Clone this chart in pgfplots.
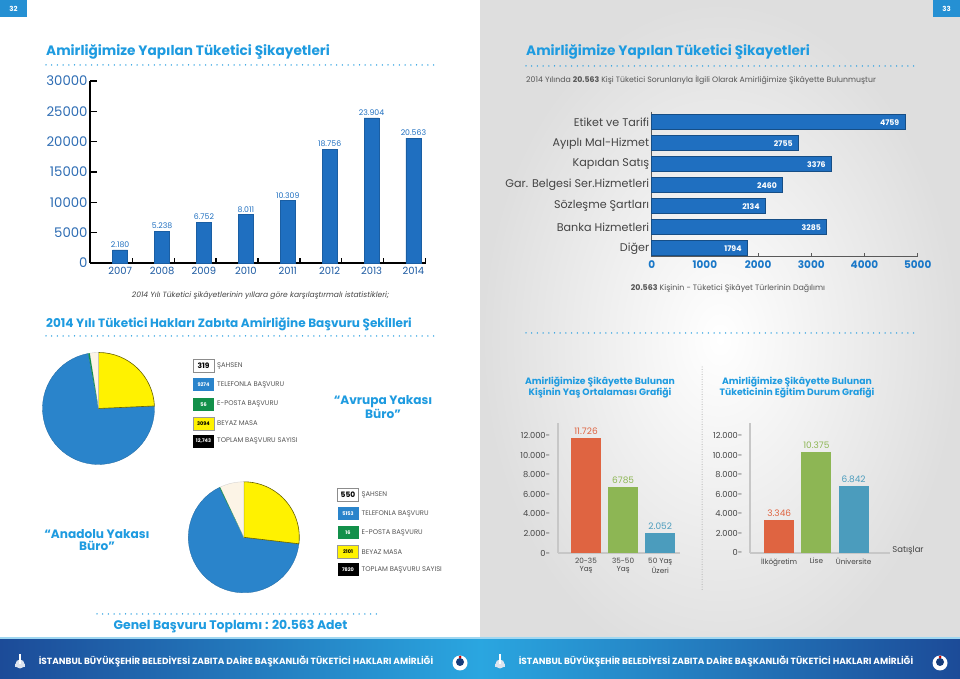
\documentclass[border=0pt]{standalone}
\usepackage{pgfplots}
\pgfplotsset{compat=1.18}
\usepackage{fontspec}
\setmainfont{Poppins}
\definecolor{titleblue}{HTML}{1E9BE0}
\definecolor{barblue}{HTML}{1F6FC0}
\definecolor{tickblue}{HTML}{2E6DB4}
\definecolor{xtickblue}{HTML}{1C5AA2}
\definecolor{hticks}{HTML}{1A78C8}
\definecolor{pieblue}{HTML}{2A84CB}
\definecolor{pieyellow}{HTML}{FFF200}
\definecolor{piecream}{HTML}{FCF4E6}
\definecolor{piegreen}{HTML}{12904A}
\definecolor{orng}{HTML}{DF6441}
\definecolor{grn}{HTML}{8DB654}
\definecolor{tealb}{HTML}{4B9CBD}
\definecolor{footdark}{HTML}{1C4B98}
\definecolor{footlight}{HTML}{2AA6E0}
\definecolor{txtgray}{HTML}{444444}
\definecolor{lgray}{HTML}{555555}
\newcommand\fs[1]{\fontsize{#1}{#1}\selectfont}
% pie angles (counterclockwise from top)
\pgfmathsetmacro\pAw{90+319/12743*360}
\pgfmathsetmacro\pAg{\pAw+56/12743*360}
\pgfmathsetmacro\pAb{450-3094/12743*360}
\pgfmathsetmacro\pBw{90+550/7820*360}
\pgfmathsetmacro\pBg{\pBw+16/7820*360}
\pgfmathsetmacro\pBb{450-2101/7820*360}
\begin{document}
\begin{tikzpicture}[x=1bp,y=1bp]
\useasboundingbox (0,0) rectangle (960,679);
\fill[white] (0,0) rectangle (480,679);
\shade[inner color=white, outer color=black!13] (480,0) rectangle (960,679);
% footer
\shade[left color=footdark, right color=footdark, middle color=footlight] (0,0) rectangle (960,41);
\draw[line width=1.5bp, color=footlight!45!white] (0,41) -- (960,41);
\node[text=white, font=\fs{9}\bfseries] at (236,{679-662}) {İSTANBUL BÜYÜKŞEHİR BELEDİYESİ ZABITA DAİRE BAŞKANLIĞI TÜKETİCİ HAKLARI AMİRLİĞİ};
\node[text=white, font=\fs{9}\bfseries] at (716,{679-662}) {İSTANBUL BÜYÜKŞEHİR BELEDİYESİ ZABITA DAİRE BAŞKANLIĞI TÜKETİCİ HAKLARI AMİRLİĞİ};
\foreach \lx in {20,500}{
  \fill[white!85!footdark] (\lx-5,{679-667}) rectangle (\lx+5,{679-664});
  \fill[white!85!footdark] (\lx,{679-664}) circle[radius=4.5];
  \fill[white] (\lx-0.6,{679-664}) rectangle (\lx+0.6,{679-654});}
\foreach \lx in {460,940}{
  \fill[white] (\lx,{679-663}) circle[radius=7.5];
  \fill[footdark!80!black] (\lx,{679-662}) circle[radius=4];
  \fill[red!80!black] (\lx,{679-657}) circle[radius=1.5];}
% page numbers
\fill[footlight!60!barblue] (0,{679-17}) rectangle (27,679);
\node[white, font=\fs{7}\bfseries] at (13.5,{679-8.5}) {32};
\fill[footlight!60!barblue] (933,{679-17}) rectangle (960,679);
\node[white, font=\fs{7}\bfseries] at (946.5,{679-8.5}) {33};

% ---------- titles and rules ----------
\tikzset{dots/.style={titleblue, line width=1.5bp, line cap=round, dash pattern=on 0bp off 5.7bp}}
\node[anchor=base west, inner sep=0, text=titleblue, font=\fs{13.7}\bfseries] at (46,{679-56}) {Amirliğimize Yapılan Tüketici Şikayetleri};
\draw[dots] (46,{679-65}) -- (434,{679-65});
\node[anchor=base west, inner sep=0, text=titleblue, font=\fs{13.7}\bfseries] at (526,{679-56}) {Amirliğimize Yapılan Tüketici Şikayetleri};
\draw[dots] (526,{679-66}) -- (915,{679-66});
\node[anchor=west, inner sep=0, text=lgray, font=\fs{7.8}] at (526,{679-80}) {2014 Yılında \textbf{20.563} Kişi Tüketici Sorunlarıyla İlgili Olarak Amirliğimize Şikâyette Bulunmuştur};
\node[inner sep=0, text=txtgray, font=\fs{7.6}\itshape] at (260.5,{679-296}) {2014 Yılı Tüketici şikâyetlerinin yıllara göre karşılaştırmalı istatistikleri;};
\node[anchor=base west, inner sep=0, text=titleblue, font=\fs{12.1}\bfseries] at (46,{679-327.5}) {2014 Yılı Tüketici Hakları Zabıta Amirliğine Başvuru Şekilleri};
\draw[dots] (46,{679-336}) -- (434,{679-336});
\draw[dots] (526,{679-333}) -- (915,{679-333});
\node[inner sep=0, text=lgray, font=\fs{7.9}] at (728,{679-289}) {\textbf{20.563} Kişinin - Tüketici Şikâyet Türlerinin Dağılımı};
\draw[dots] (97,{679-614}) -- (377,{679-614});
\node[inner sep=0, text=titleblue, font=\fs{12.5}\bfseries] at (230.5,{679-627}) {Genel Başvuru Toplamı : 20.563 Adet};
\node[align=center, text=titleblue, font=\fs{12.2}\bfseries, inner sep=0] at (383,{679-407}) {“Avrupa Yakası\\Büro”};
\node[align=center, text=titleblue, font=\fs{12.2}\bfseries, inner sep=0] at (97,{679-540}) {“Anadolu Yakası\\Büro”};
\node[align=center, text=titleblue, font=\fs{9.3}\bfseries, inner sep=0] at (600,{679-388}) {Amirliğimize Şikâyette Bulunan\\Kişinin Yaş Ortalaması Grafiği};
\node[align=center, text=titleblue, font=\fs{9.3}\bfseries, inner sep=0] at (797,{679-388}) {Amirliğimize Şikâyette Bulunan\\Tüketicinin Eğitim Durum Grafiği};
\draw[black!35, line width=1bp, line cap=round, dash pattern=on 0bp off 2.5bp] (702,{679-367}) -- (702,{679-590});
\node[text=txtgray, font=\fs{8.5}, inner sep=0] at (908,{679-550}) {Satışlar};

% ---------- chart 1: yearly complaints ----------
\begin{axis}[at={(90bp,416bp)}, anchor=south west, scale only axis, width=336bp, height=182bp,
  ybar, bar width=15bp, xmin=2006.28, xmax=2014.3, ymin=0, ymax=30000,
  axis lines*=left, axis line style={line width=1.3bp, black},
  xtick={2007,2008,2009,2010,2011,2012,2013,2014},
  minor xtick={2007.29,2008.29,2009.29,2010.29,2011.29,2012.29,2013.29,2014.29},
  major x tick style={draw=none},
  ytick={0,5000,10000,15000,20000,25000,30000}, scaled y ticks=false,
  tick align=inside, major tick length=7bp, minor tick length=5bp,
  tick style={black, line width=1.3bp},
  /pgf/number format/1000 sep={}, /pgf/number format/fixed, /pgf/number format/assume math mode=true,
  yticklabel style={font=\fs{13.3}, text=tickblue, xshift=1bp},
  xticklabel style={font=\fs{10}, text=xtickblue, yshift=-1bp},
  nodes near coords, point meta=explicit symbolic,
  every node near coord/.append style={font=\fs{7.8}, text=barblue, inner sep=2bp},
  clip=false]
\addplot[fill=barblue, draw=barblue!85!black, line width=0.4bp] coordinates {
 (2007,2180) [2.180] (2008,5238) [5.238] (2009,6752) [6.752] (2010,8011) [8.011]
 (2011,10309) [10.309] (2012,18756) [18.756] (2013,23904) [23.904] (2014,20563) [20.563]};
\end{axis}

% ---------- chart 2: complaint types ----------
\begin{axis}[at={(651.7bp,422.3bp)}, anchor=south west, scale only axis, width=266bp, height=145bp,
  xbar, bar width=15bp, xmin=0, xmax=5000, ymin=-0.5, ymax=6.4, y dir=reverse,
  axis lines*=left, axis line style={line width=1.1bp, black!65},
  ytick={0,1,2,3,4,5,6},
  yticklabels={Etiket ve Tarifi, Ayıplı Mal-Hizmet, Kapıdan Satış, Gar. Belgesi Ser.Hizmetleri, Sözleşme Şartları, Banka Hizmetleri, Diğer},
  major y tick style={draw=none},
  xtick={0,1000,2000,3000,4000,5000}, scaled x ticks=false, tick align=inside, major tick length=4bp,
  tick style={black!65, line width=1bp},
  /pgf/number format/1000 sep={}, /pgf/number format/fixed, /pgf/number format/assume math mode=true,
  yticklabel style={font=\fs{11.2}, text=txtgray, xshift=1bp},
  xticklabel style={font=\fs{10.5}\bfseries, text=hticks},
  nodes near coords, point meta=explicit symbolic,
  every node near coord/.append style={anchor=east, font=\fs{7.8}\bfseries, text=white, xshift=-2bp},
  clip=false]
\addplot[fill=barblue, draw=barblue!70!black, line width=0.6bp] coordinates {
 (4759,0) [4759] (2755,1) [2755] (3376,2) [3376] (2460,3) [2460]
 (2134,4) [2134] (3285,5) [3285] (1794,6) [1794]};
\end{axis}

% ---------- chart 3: age ----------
\begin{axis}[at={(557.7bp,126bp)}, anchor=south west, scale only axis, width=122.3bp, height=130.3bp,
  ybar, bar width=30bp, xmin=-0.763, xmax=2.534, ymin=0, ymax=13307,
  axis lines*=left, axis line style={line width=1.8bp, black!22},
  ytick={0,2000,4000,6000,8000,10000,12000}, scaled y ticks=false,
  yticklabel={\pgfmathprintnumber{\tick}-},
  xtick={0,1,2}, xticklabels={{20-35\\Yaş},{35-50\\Yaş},{50 Yaş\\Üzeri}},
  major tick length=0pt,
  /pgf/number format/fixed, /pgf/number format/1000 sep={.}, /pgf/number format/assume math mode=true,
  yticklabel style={font=\fs{8.3}, text=txtgray, xshift=-4bp},
  xticklabel style={font=\fs{7.3}, text=txtgray, align=center, yshift=-2bp},
  nodes near coords, point meta=explicit symbolic,
  every node near coord/.append style={font=\fs{9}, inner sep=3bp},
  clip=false]
\addplot[fill=orng, draw=none, bar shift=0pt, every node near coord/.append style={text=orng}] coordinates {(0,11726) [11.726]};
\addplot[fill=grn, draw=none, bar shift=0pt, every node near coord/.append style={text=grn}] coordinates {(1,6785) [6785]};
\addplot[fill=tealb, draw=none, bar shift=0pt, every node near coord/.append style={text=tealb}] coordinates {(2,2052) [2.052]};
\end{axis}

% ---------- chart 4: education ----------
\begin{axis}[at={(750bp,126.3bp)}, anchor=south west, scale only axis, width=140bp, height=130bp,
  ybar, bar width=30bp, xmin=-0.785, xmax=2.98, ymin=0, ymax=13333,
  axis lines*=left, axis line style={line width=1.8bp, black!22},
  ytick={0,2000,4000,6000,8000,10000,12000}, scaled y ticks=false,
  yticklabel={\pgfmathprintnumber{\tick}-},
  xtick={0,1,2}, xticklabels={İlköğretim,Lise,Üniversite},
  major tick length=0pt,
  /pgf/number format/fixed, /pgf/number format/1000 sep={.}, /pgf/number format/assume math mode=true,
  yticklabel style={font=\fs{8.3}, text=txtgray, xshift=-4bp},
  xticklabel style={font=\fs{7.3}, text=txtgray, yshift=-2bp},
  nodes near coords, point meta=explicit symbolic,
  every node near coord/.append style={font=\fs{9}, inner sep=3bp},
  clip=false]
\addplot[fill=orng, draw=none, bar shift=0pt, every node near coord/.append style={text=orng}] coordinates {(0,3346) [3.346]};
\addplot[fill=grn, draw=none, bar shift=0pt, every node near coord/.append style={text=grn}] coordinates {(1,10375) [10.375]};
\addplot[fill=tealb, draw=none, bar shift=0pt, every node near coord/.append style={text=tealb}] coordinates {(2,6842) [6.842]};
\end{axis}

% ---------- pie 1: Avrupa Yakası ----------
\begin{axis}[hide axis, scale only axis, width=112bp, height=112bp, at={(42.5bp,214.5bp)}, anchor=south west,
  xmin=-1, xmax=1, ymin=-1, ymax=1, clip=false]
\fill[pieblue, draw=pieblue!80!black, line width=0.3bp] (axis cs:0,0) -- ++(\pAg:56bp) arc[start angle=\pAg, end angle=\pAb, radius=56bp] -- cycle;
\fill[pieyellow, draw=black!60!pieyellow, line width=0.6bp] (axis cs:0,0) -- ++(\pAb:56bp) arc[start angle=\pAb, end angle=450, radius=56bp] -- cycle;
\fill[piecream, draw=black!20, line width=0.3bp] (axis cs:0,0) -- ++(90:56bp) arc[start angle=90, end angle=\pAw, radius=56bp] -- cycle;
\fill[piegreen] (axis cs:0,0) -- ++(\pAw:56bp) arc[start angle=\pAw, end angle=\pAg, radius=56bp] -- cycle;
\end{axis}

% ---------- pie 2: Anadolu Yakası ----------
\begin{axis}[hide axis, scale only axis, width=111bp, height=111bp, at={(188.3bp,86.2bp)}, anchor=south west,
  xmin=-1, xmax=1, ymin=-1, ymax=1, clip=false]
\fill[pieblue, draw=pieblue!80!black, line width=0.3bp] (axis cs:0,0) -- ++(\pBg:55.5bp) arc[start angle=\pBg, end angle=\pBb, radius=55.5bp] -- cycle;
\fill[pieyellow, draw=black!60!pieyellow, line width=0.6bp] (axis cs:0,0) -- ++(\pBb:55.5bp) arc[start angle=\pBb, end angle=450, radius=55.5bp] -- cycle;
\fill[piecream, draw=black!20, line width=0.3bp] (axis cs:0,0) -- ++(90:55.5bp) arc[start angle=90, end angle=\pBw, radius=55.5bp] -- cycle;
\fill[piegreen] (axis cs:0,0) -- ++(\pBw:55.5bp) arc[start angle=\pBw, end angle=\pBg, radius=55.5bp] -- cycle;
\end{axis}

% ---------- legends ----------
\tikzset{lbox/.style={minimum width=21bp, minimum height=13bp, inner sep=0, font=\fs{5}\bfseries},
         ltxt/.style={anchor=west, inner sep=0, text=lgray, font=\fs{6.8}}}
\node[lbox, draw=black!45, line width=1bp, fill=white, font=\fs{7.5}\bfseries] at (203.5,{679-365.7}) {319};
\node[lbox, fill=pieblue, text=white] at (203.5,{679-385}) {9274};
\node[lbox, fill=piegreen, text=white] at (203.5,{679-404.3}) {56};
\node[lbox, fill=pieyellow, draw=black!40, text=black] at (203.5,{679-423.3}) {3094};
\node[lbox, fill=black, text=white] at (203.5,{679-441.3}) {12,743};
\node[ltxt] at (217,{679-365.7}) {ŞAHSEN};
\node[ltxt] at (217,{679-385}) {TELEFONLA BAŞVURU};
\node[ltxt] at (217,{679-404.3}) {E-POSTA BAŞVURU};
\node[ltxt] at (217,{679-423.3}) {BEYAZ MASA};
\node[ltxt] at (217,{679-441.3}) {TOPLAM BAŞVURU SAYISI};
\node[lbox, draw=black!45, line width=1bp, fill=white, font=\fs{7.5}\bfseries] at (348,{679-494.7}) {550};
\node[lbox, fill=pieblue, text=white] at (348,{679-513.7}) {5153};
\node[lbox, fill=piegreen, text=white] at (348,{679-532.7}) {16};
\node[lbox, fill=pieyellow, draw=black!40, text=black] at (348,{679-552}) {2101};
\node[lbox, fill=black, text=white] at (348,{679-569.7}) {7820};
\node[ltxt] at (361.5,{679-494.7}) {ŞAHSEN};
\node[ltxt] at (361.5,{679-513.7}) {TELEFONLA BAŞVURU};
\node[ltxt] at (361.5,{679-532.7}) {E-POSTA BAŞVURU};
\node[ltxt] at (361.5,{679-552}) {BEYAZ MASA};
\node[ltxt] at (361.5,{679-569.7}) {TOPLAM BAŞVURU SAYISI};
\end{tikzpicture}
\end{document}
